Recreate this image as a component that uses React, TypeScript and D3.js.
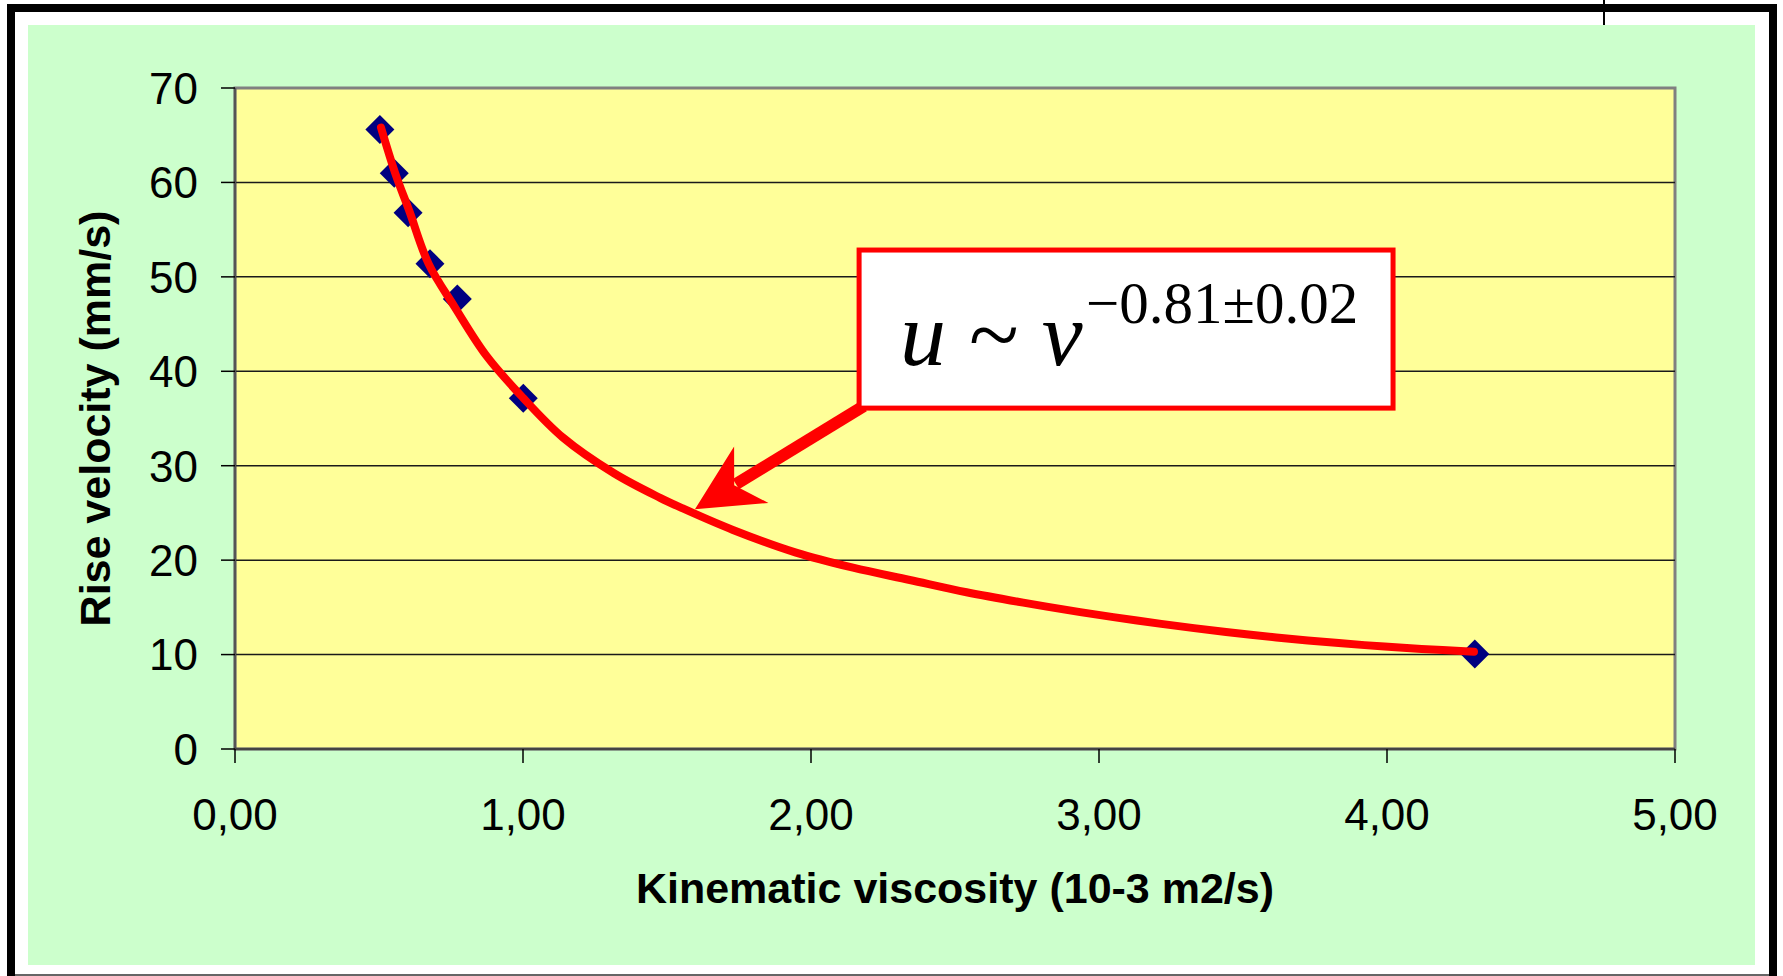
import * as d3 from "d3";

// measured points (kinematic viscosity in 10^-3 m2/s, rise velocity in mm/s)
const viscosity = [0.503, 0.553, 0.601, 0.677, 0.772, 1.001, 4.305];
const riseVelocity = [65.6, 60.96, 56.8, 51.4, 47.65, 37.14, 10.06];

// red trend curve
const fitViscosity = [
  0.507, 0.556, 0.605, 0.672, 0.763, 0.874, 1.0, 1.138, 1.316, 1.476, 1.553,
  1.729, 1.948, 2.146, 2.343, 2.54, 2.737, 2.935, 3.132, 3.33, 3.527, 3.725,
  3.922, 4.12, 4.302,
];
const fitVelocity = [
  65.8, 61.0, 57.0, 51.4, 46.8, 41.6, 37.2, 33.0, 29.2, 26.6, 25.5, 23.2, 20.8,
  19.2, 17.9, 16.6, 15.5, 14.5, 13.6, 12.8, 12.1, 11.5, 11.0, 10.6, 10.3,
];

const xTicks = [0, 1, 2, 3, 4, 5];
const yTicks = [0, 10, 20, 30, 40, 50, 60, 70];

const xTitle = "Kinematic viscosity (10-3 m2/s)";
const yTitle = "Rise velocity (mm/s)";
const exponentLabel = "\u22120.81\u00b10.02";

const W = 1783;
const H = 976;
const plot = { left: 235, right: 1675, top: 88, bottom: 749 };
const sans = "'Liberation Sans', Arial, sans-serif";
const serif = "'Liberation Serif', 'Times New Roman', serif";

const commaFormat = d3
  .formatLocale({ decimal: ",", thousands: ".", grouping: [3], currency: ["", ""] })
  .format(".2f");

export default function App() {
  const x = d3.scaleLinear().domain([0, 5]).range([plot.left, plot.right]);
  const y = d3.scaleLinear().domain([0, 70]).range([plot.bottom, plot.top]);

  const fitLine = d3
    .line<number>()
    .x((_, i) => x(fitViscosity[i]))
    .y((d) => y(d))
    .curve(d3.curveCatmullRom.alpha(0.5));

  const diamond = d3.symbol().type(d3.symbolSquare).size(420)();

  // annotation box and arrow, placed in data units
  const box = { x0: 2.167, x1: 4.021, y0: 52.84, y1: 36.1 };
  const tail = [x(2.183), y(36.3)];
  const tip = [x(1.597), y(25.4)];
  const dx = tail[0] - tip[0];
  const dy = tail[1] - tip[1];
  const len = Math.hypot(dx, dy);
  const ux = dx / len;
  const uy = dy / len;
  const px = -uy;
  const py = ux;
  const headLen = 66;
  const headHalf = 33;
  const notch = 46;
  const base = [tip[0] + ux * headLen, tip[1] + uy * headLen];
  const head = [
    tip,
    [base[0] + px * headHalf, base[1] + py * headHalf],
    [tip[0] + ux * notch, tip[1] + uy * notch],
    [base[0] - px * headHalf, base[1] - py * headHalf],
  ];

  const bx = x(box.x0);
  const by = y(box.y0);
  const bw = x(box.x1) - bx;
  const bh = y(box.y1) - by;

  return (
    <svg
      width={W}
      height={H}
      style={{ position: "absolute", left: 0, top: 0, display: "block" }}
    >
      <rect x={0} y={0} width={W} height={H} fill="#ffffff" />
      <rect x={28} y={25} width={1727} height={940} fill="#ccffcc" />

      {/* outer frame */}
      <path d="M11,976 V8 H1773 V976" fill="none" stroke="#000" strokeWidth={8} />
      <line x1={15} x2={1769} y1={975} y2={975} stroke="#666" strokeWidth={2} />
      <line x1={1604} x2={1604} y1={0} y2={25} stroke="#000" strokeWidth={2} />

      {/* plot area */}
      <rect
        x={plot.left}
        y={plot.top}
        width={plot.right - plot.left}
        height={plot.bottom - plot.top}
        fill="#ffff99"
        stroke="#808080"
        strokeWidth={3}
      />

      {yTicks
        .filter((t) => t > 0 && t < 70)
        .map((t) => (
          <line
            key={`g${t}`}
            x1={plot.left}
            x2={plot.right}
            y1={y(t)}
            y2={y(t)}
            stroke="#1a1a1a"
            strokeWidth={1.5}
          />
        ))}

      <line x1={plot.left} x2={plot.left} y1={plot.top} y2={plot.bottom} stroke="#555" strokeWidth={2.5} />
      <line x1={plot.left} x2={plot.right} y1={plot.bottom} y2={plot.bottom} stroke="#444" strokeWidth={2.5} />

      {yTicks.map((t) => (
        <g key={`y${t}`}>
          <line x1={plot.left - 14} x2={plot.left} y1={y(t)} y2={y(t)} stroke="#000" strokeWidth={1.5} />
          <text
            x={198}
            y={y(t)}
            dy="0.36em"
            textAnchor="end"
            fontFamily={sans}
            fontSize={44}
            fill="#000"
          >
            {t}
          </text>
        </g>
      ))}

      {xTicks.map((t) => (
        <g key={`x${t}`}>
          <line x1={x(t)} x2={x(t)} y1={plot.bottom} y2={plot.bottom + 14} stroke="#000" strokeWidth={1.5} />
          <text
            x={x(t)}
            y={830}
            textAnchor="middle"
            fontFamily={sans}
            fontSize={44}
            fill="#000"
          >
            {commaFormat(t)}
          </text>
        </g>
      ))}

      <text
        x={(plot.left + plot.right) / 2}
        y={903}
        textAnchor="middle"
        fontFamily={sans}
        fontWeight="bold"
        fontSize={43}
        fill="#000"
      >
        {xTitle}
      </text>
      <text
        transform={`translate(110, ${(plot.top + plot.bottom) / 2}) rotate(-90)`}
        textAnchor="middle"
        fontFamily={sans}
        fontWeight="bold"
        fontSize={43}
        fill="#000"
      >
        {yTitle}
      </text>

      {/* data markers */}
      {viscosity.map((v, i) => (
        <path
          key={`m${i}`}
          d={diamond ?? ""}
          transform={`translate(${x(v)}, ${y(riseVelocity[i])}) rotate(45)`}
          fill="#000080"
        />
      ))}

      {/* fitted curve */}
      <path
        d={fitLine(fitVelocity) ?? ""}
        fill="none"
        stroke="#ff0000"
        strokeWidth={8}
        strokeLinecap="round"
        strokeLinejoin="round"
      />

      {/* annotation */}
      <line
        x1={tail[0]}
        y1={tail[1]}
        x2={tip[0] + ux * (notch + 2)}
        y2={tip[1] + uy * (notch + 2)}
        stroke="#ff0000"
        strokeWidth={12}
      />
      <polygon points={head.map((p) => p.join(",")).join(" ")} fill="#ff0000" />
      <rect x={bx} y={by} width={bw} height={bh} fill="#ffffff" stroke="#ff0000" strokeWidth={5} />
      <text x={900} y={365} fontFamily={serif} fontSize={92} fill="#000">
        <tspan fontStyle="italic">u</tspan>
        <tspan> ~ </tspan>
        <tspan fontStyle="italic">v</tspan>
      </text>
      <text x={1086} y={323} fontFamily={serif} fontSize={59} fill="#000">
        {exponentLabel}
      </text>
    </svg>
  );
}
